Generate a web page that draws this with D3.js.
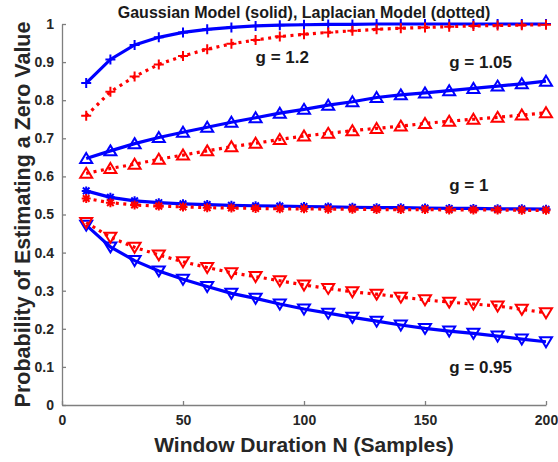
<!DOCTYPE html>
<html lang="en">
<head>
<meta charset="UTF-8">
<title>Probability of Estimating a Zero Value</title>
<script src="https://d3js.org/d3.v7.min.js"></script>
<style>
    body { margin: 0; background: #fff; }
    svg { font-family: "Liberation Sans", Arial, sans-serif; }
    .tick-label { font-size: 14px; font-weight: bold; fill: #262626; }
    .axis-title { font-size: 21px; font-weight: bold; fill: #262626; }
    .g-label { font-size: 17px; font-weight: bold; fill: #1a1a1a; }
</style>
</head>
<body>
<svg width="558" height="462"></svg>
<script>
    // window durations
    const N = d3.range(10, 201, 10);

    const gauss12 = [0.845, 0.907, 0.945, 0.965, 0.978, 0.986, 0.991, 0.995, 0.997, 0.998,
                     0.999, 0.999, 1, 1, 1, 1, 1, 1, 1, 1];
    const lap12 = [0.759, 0.822, 0.862, 0.894, 0.916, 0.934, 0.948, 0.958, 0.967, 0.973,
                   0.978, 0.982, 0.986, 0.989, 0.991, 0.993, 0.995, 0.996, 0.997, 0.998];
    const gauss105 = [0.647, 0.667, 0.686, 0.702, 0.716, 0.729, 0.742, 0.754, 0.766, 0.776,
                      0.787, 0.796, 0.807, 0.814, 0.819, 0.825, 0.831, 0.837, 0.843, 0.850];
    const lap105 = [0.608, 0.621, 0.632, 0.645, 0.656, 0.667, 0.678, 0.687, 0.697, 0.706,
                    0.713, 0.720, 0.726, 0.732, 0.739, 0.745, 0.750, 0.755, 0.761, 0.767];
    const gauss1 = [0.562, 0.545, 0.536, 0.531, 0.528, 0.526, 0.524, 0.523, 0.522, 0.521,
                    0.520, 0.519, 0.518, 0.518, 0.517, 0.516, 0.516, 0.515, 0.515, 0.514];
    const lap1 = [0.542, 0.531, 0.525, 0.522, 0.520, 0.518, 0.517, 0.516, 0.515, 0.515,
                  0.514, 0.514, 0.513, 0.513, 0.513, 0.512, 0.512, 0.512, 0.511, 0.511];
    const gauss095 = [0.472, 0.415, 0.379, 0.352, 0.330, 0.311, 0.293, 0.280, 0.265, 0.252,
                      0.241, 0.230, 0.220, 0.210, 0.201, 0.194, 0.188, 0.181, 0.173, 0.166];
    const lap095 = [0.479, 0.440, 0.414, 0.394, 0.376, 0.361, 0.347, 0.337, 0.326, 0.315,
                    0.306, 0.297, 0.291, 0.283, 0.276, 0.270, 0.265, 0.260, 0.251, 0.242];

    const xTicks = [0, 50, 100, 150, 200];
    const yTicks = d3.range(0, 11).map(d => d / 10);

    // label text and where it sits in data units
    const gLabels = [
        { text: "g = 1.2", x: 80, y: 0.897 },
        { text: "g = 1.05", x: 160, y: 0.885 },
        { text: "g = 1", x: 160, y: 0.562 },
        { text: "g = 0.95", x: 160, y: 0.084 }
    ];

    const series = [
        { vals: gauss12, model: "gauss", marker: "plus" },
        { vals: gauss105, model: "gauss", marker: "triUp" },
        { vals: gauss1, model: "gauss", marker: "star" },
        { vals: gauss095, model: "gauss", marker: "triDown" },
        { vals: lap12, model: "lap", marker: "plus" },
        { vals: lap105, model: "lap", marker: "triUp" },
        { vals: lap1, model: "lap", marker: "star" },
        { vals: lap095, model: "lap", marker: "triDown" }
    ];

    const svg = d3.select("svg");
    const margin = { top: 24, right: 12, bottom: 57, left: 62 };
    const width = 558 - margin.left - margin.right;
    const height = 462 - margin.top - margin.bottom;

    const g = svg.append("g").attr("transform", `translate(${margin.left},${margin.top})`);

    const x = d3.scaleLinear().domain([0, 200]).range([0, width]);
    const y = d3.scaleLinear().domain([0, 1]).range([height, 0]);

    // axes, ticks pointing inward like matlab
    const xAxis = d3.axisBottom(x).tickValues(xTicks).tickSizeInner(-4).tickSizeOuter(0)
        .tickPadding(10).tickFormat(d3.format("d"));
    const yAxis = d3.axisLeft(y).tickValues(yTicks).tickSizeInner(-4).tickSizeOuter(0)
        .tickPadding(8).tickFormat(d => d === 0 || d === 1 ? d3.format("d")(d) : d3.format(".1f")(d));

    const gx = g.append("g").attr("transform", `translate(0,${height})`).call(xAxis);
    const gy = g.append("g").call(yAxis);
    [gx, gy].forEach(a => {
        a.select(".domain").attr("stroke", "#7f7f7f").attr("stroke-width", 1.3);
        a.selectAll(".tick line").attr("stroke", "#7f7f7f").attr("stroke-width", 1.3);
        a.selectAll(".tick text").attr("class", "tick-label").attr("font-family", null).attr("font-size", null);
    });
    gx.selectAll(".tick text").attr("dy", "0.71em");

    const color = { gauss: "#0000ff", lap: "#ff0000" };

    const line = d3.line()
        .x((d, i) => x(N[i]))
        .y(d => y(d));

    function markerPath(type) {
        const p = d3.path();
        if (type === "plus") {
            p.moveTo(-5, 0); p.lineTo(5, 0);
            p.moveTo(0, -5); p.lineTo(0, 5);
        } else if (type === "triUp") {
            p.moveTo(0, -5.5); p.lineTo(6, 4.5); p.lineTo(-6, 4.5); p.closePath();
        } else if (type === "triDown") {
            p.moveTo(0, 5.5); p.lineTo(6, -4.5); p.lineTo(-6, -4.5); p.closePath();
        } else if (type === "star") {
            p.moveTo(-4.5, 0); p.lineTo(4.5, 0);
            p.moveTo(0, -4.5); p.lineTo(0, 4.5);
            p.moveTo(-3.3, -3.3); p.lineTo(3.3, 3.3);
            p.moveTo(-3.3, 3.3); p.lineTo(3.3, -3.3);
        }
        return p.toString();
    }

    series.forEach(s => {
        const col = color[s.model];
        g.append("path")
            .datum(s.vals)
            .attr("d", line)
            .attr("fill", "none")
            .attr("stroke", col)
            .attr("stroke-width", 3.2)
            .attr("stroke-dasharray", s.model === "lap" ? "3,4.5" : null);

        g.append("g").selectAll("path")
            .data(s.vals)
            .join("path")
            .attr("transform", (d, i) => `translate(${x(N[i])},${y(d)})`)
            .attr("d", markerPath(s.marker))
            .attr("fill", "none")
            .attr("stroke", col)
            .attr("stroke-width", 2);
    });

    // curve labels
    g.selectAll(".g-label")
        .data(gLabels)
        .join("text")
        .attr("class", "g-label")
        .attr("x", d => x(d.x))
        .attr("y", d => y(d.y))
        .text(d => d.text);

    // title
    svg.append("text")
        .attr("x", margin.left + width / 2)
        .attr("y", 18)
        .attr("text-anchor", "middle")
        .style("font-size", "16px")
        .style("font-weight", "bold")
        .attr("fill", "#1a1a1a")
        .text("Gaussian Model (solid), Laplacian Model (dotted)");

    // axis titles
    svg.append("text")
        .attr("class", "axis-title")
        .attr("x", margin.left + width / 2)
        .attr("y", 452)
        .attr("text-anchor", "middle")
        .text("Window Duration N (Samples)");

    svg.append("text")
        .attr("class", "axis-title")
        .attr("transform", `translate(30,${margin.top + height / 2}) rotate(-90)`)
        .attr("text-anchor", "middle")
        .style("font-size", "21.5px")
        .text("Probability of Estimating a Zero Value");
</script>
</body>
</html>
